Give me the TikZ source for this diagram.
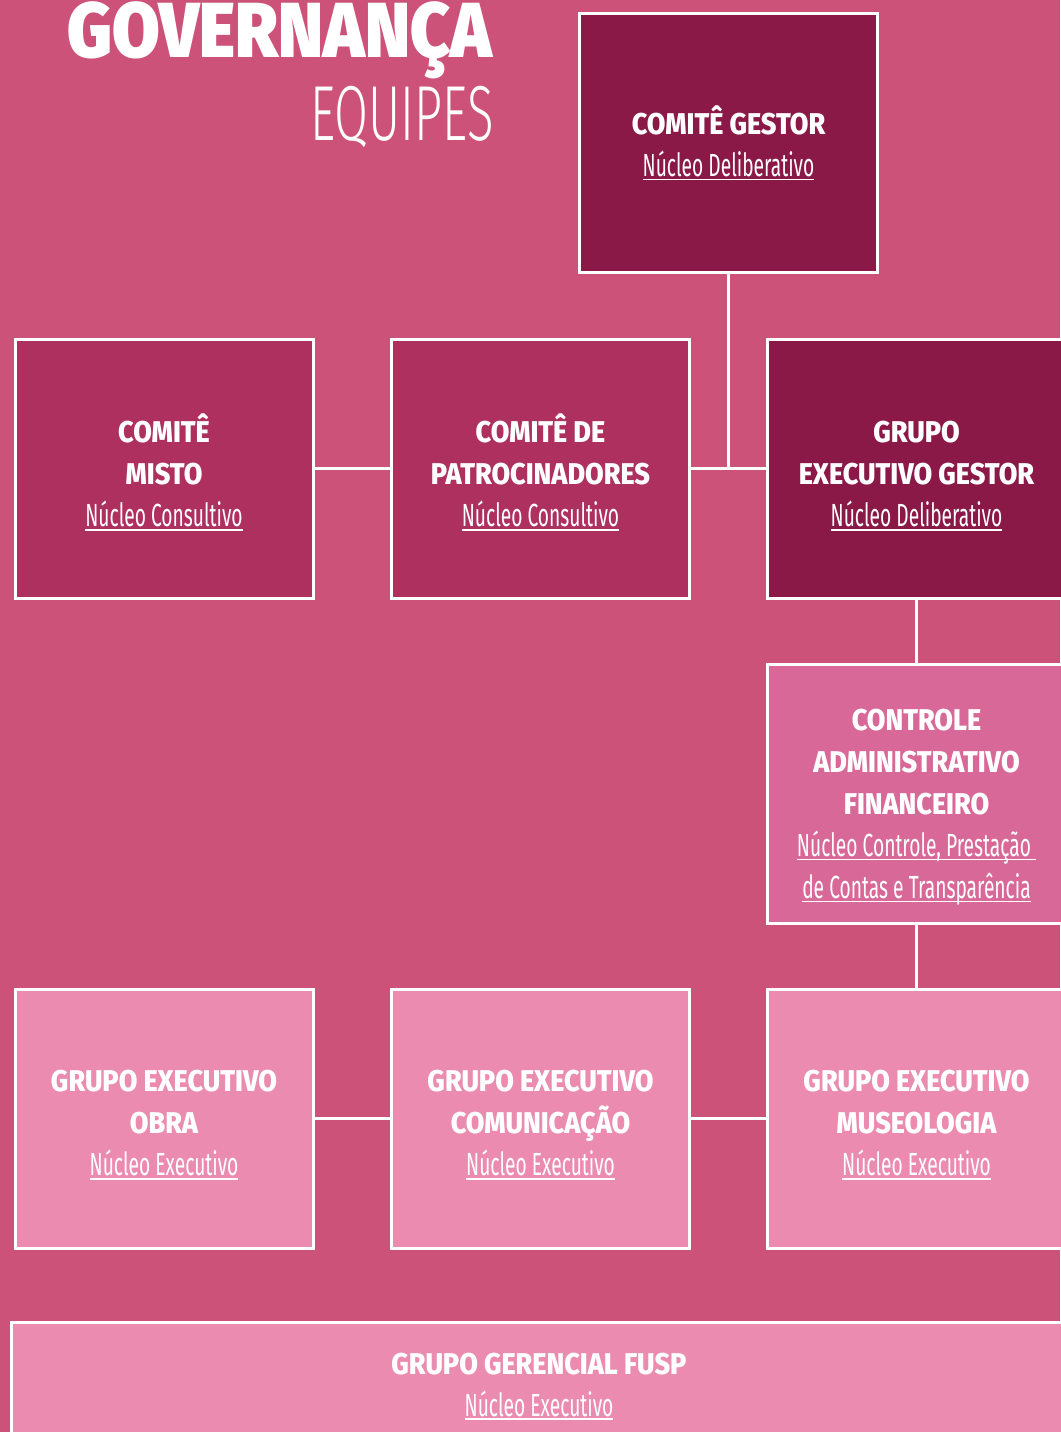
\documentclass[tikz,border=0pt]{standalone}
\usepackage{fontspec}
\setmainfont{Fira Sans}
\newfontfamily\titlefont{Fira Sans}[UprightFont=* Black, FakeStretch=0.885]
\newfontfamily\thinfont{Fira Sans}[UprightFont=* Light, FakeStretch=0.63]
\newfontfamily\headfont{Fira Sans}[UprightFont=* ExtraBold, FakeStretch=0.9]
\newfontfamily\subfont{Fira Sans}[FakeStretch=0.6]

\definecolor{fundo}{HTML}{CD5279}
\definecolor{vinho}{HTML}{8A1947}
\definecolor{framboesa}{HTML}{AE305E}
\definecolor{rosaforte}{HTML}{D86897}
\definecolor{rosaclaro}{HTML}{EB8BB0}

\newcommand{\sublinha}[1]{\setbox0\hbox{#1}\rlap{\rule[-4pt]{\wd0}{1.6pt}}\box0}
\newcommand{\nucleo}[1]{{\subfont\fontsize{32}{40}\selectfont\sublinha{#1}}}
\newcommand{\topo}[1]{\rule{0pt}{#1pt}}

\tikzset{
  caixa/.style={draw=white, line width=3pt, minimum width=298pt, minimum height=259pt,
    align=center, text=white, inner sep=0pt, font=\headfont\fontsize{30}{42}\selectfont},
  ligacao/.style={draw=white, line width=3pt},
}

\begin{document}
\begin{tikzpicture}[x=1pt, y=-1pt]
\useasboundingbox (0,0) rectangle (1060,1432);
\fill[fundo] (0,0) rectangle (1060,1432);

% titulo
\node[anchor=base east, inner sep=0pt, text=white, font=\titlefont\fontsize{78}{78}\selectfont] (titulo) at (492,57) {GOVERNANÇA};
\node[anchor=base east, inner sep=0pt, text=white, font=\thinfont\fontsize{78}{78}\selectfont] (equipes) at (494,140) {EQUIPES};

% caixas
\node[caixa, fill=vinho] (gestor) at (728.5,143) {COMITÊ GESTOR\\ \nucleo{Núcleo Deliberativo}};
\node[caixa, fill=framboesa] (misto) at (164,468.5) {\topo{36}COMITÊ\\MISTO\\ \nucleo{Núcleo Consultivo}};
\node[caixa, fill=framboesa] (patroc) at (540.5,468.5) {\topo{36}COMITÊ DE\\PATROCINADORES\\ \nucleo{Núcleo Consultivo}};
\node[caixa, fill=vinho] (gexec) at (916.5,468.5) {\topo{36}GRUPO\\EXECUTIVO GESTOR\\ \nucleo{Núcleo Deliberativo}};
\node[caixa, fill=rosaforte] (ctrl) at (916.5,793.5) {\topo{48}CONTROLE\\ADMINISTRATIVO\\FINANCEIRO\\ \nucleo{Núcleo Controle, Prestação\ }\\ \nucleo{de Contas e Transparência}};
\node[caixa, fill=rosaclaro] (obra) at (164,1118.5) {\topo{34}GRUPO EXECUTIVO\\OBRA\\ \nucleo{Núcleo Executivo}};
\node[caixa, fill=rosaclaro] (comun) at (540.5,1118.5) {\topo{34}GRUPO EXECUTIVO\\COMUNICAÇÃO\\ \nucleo{Núcleo Executivo}};
\node[caixa, fill=rosaclaro] (museo) at (916.5,1118.5) {\topo{34}GRUPO EXECUTIVO\\MUSEOLOGIA\\ \nucleo{Núcleo Executivo}};
\node[caixa, fill=rosaclaro, minimum width=1055pt, minimum height=123pt] (fusp) at (539,1384) {\topo{26}GRUPO GERENCIAL FUSP\\ \nucleo{Núcleo Executivo}};

% ligacoes
\draw[ligacao] (misto) -- (patroc);
\draw[ligacao] (patroc) -- (gexec);
\draw[ligacao] (gestor.south) -- (gestor.south |- patroc.east);
\draw[ligacao] (gexec) -- (ctrl);
\draw[ligacao] (ctrl) -- (museo);
\draw[ligacao] (obra) -- (comun);
\draw[ligacao] (comun) -- (museo);
\end{tikzpicture}
\end{document}
